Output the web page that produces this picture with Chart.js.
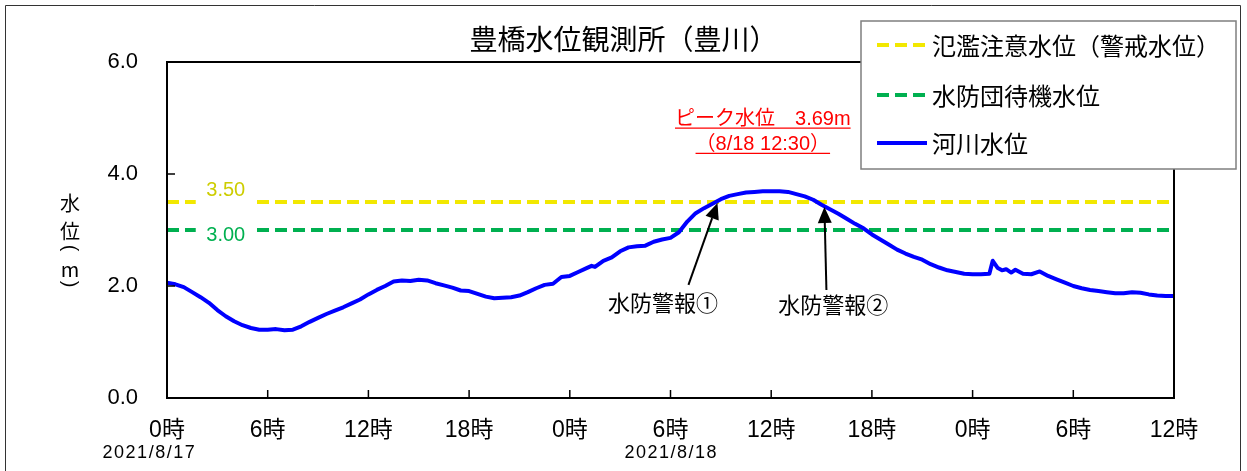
<!DOCTYPE html>
<html><head><meta charset="utf-8">
<script src="https://cdn.jsdelivr.net/npm/chart.js@4.4.1/dist/chart.umd.min.js"></script>
<style>html,body{margin:0;padding:0;background:#fff;}#wrap{width:1247px;height:471px;position:relative;}</style>
</head><body><div id="wrap"><canvas id="c" width="1247" height="471"></canvas></div>
<script>
const titleText = '豊橋水位観測所（豊川）';
const yAxisTitle = ['水','位','(','m',')'];
const hours = [0,0.5,1,1.5,2,2.5,3,3.5,4,4.5,5,5.5,6,6.5,7,7.5,8,8.5,9,9.5,10,10.5,11,11.5,12,12.5,13,13.5,14,14.5,15,15.5,16,16.5,17,17.5,18,18.5,19,19.5,20,20.5,21,21.5,22,22.5,23,23.5,24,24.5,25,25.3,25.5,26,26.5,27,27.5,28,28.5,29,29.5,30,30.5,31,31.5,32,32.5,33,33.5,34,34.5,35,35.5,36,36.5,37,37.5,38,38.5,39,39.5,40,40.5,41,41.5,42,42.5,43,43.5,44,44.5,45,45.5,46,46.5,47,47.5,48,48.5,49,49.2,49.5,49.75,50,50.3,50.55,51,51.5,52,52.5,53,53.5,54,54.5,55,55.5,56,56.5,57,57.5,58,58.5,59,59.5,60];
const levels = [2.06,2.03,1.98,1.89,1.80,1.70,1.57,1.46,1.37,1.30,1.25,1.22,1.22,1.23,1.21,1.22,1.28,1.36,1.43,1.50,1.56,1.62,1.69,1.76,1.85,1.93,2.00,2.08,2.10,2.09,2.11,2.10,2.05,2.01,1.97,1.92,1.91,1.86,1.81,1.78,1.79,1.80,1.83,1.89,1.96,2.02,2.04,2.16,2.18,2.25,2.32,2.36,2.34,2.45,2.51,2.62,2.69,2.71,2.72,2.79,2.83,2.86,2.96,3.15,3.30,3.39,3.47,3.55,3.61,3.64,3.67,3.68,3.69,3.69,3.69,3.68,3.64,3.60,3.54,3.45,3.37,3.29,3.20,3.11,3.03,2.92,2.83,2.74,2.65,2.58,2.52,2.47,2.39,2.33,2.28,2.25,2.22,2.21,2.21,2.22,2.45,2.32,2.28,2.30,2.24,2.29,2.22,2.21,2.26,2.18,2.12,2.06,2.00,1.96,1.93,1.91,1.89,1.87,1.87,1.89,1.88,1.85,1.83,1.82,1.82];
const seriesName = '河川水位';
const xTickLabels = ['0時','6時','12時','18時','0時','6時','12時','18時','0時','6時','12時'];
const dateLabels = ['2021/8/17','2021/8/18'];
const dateLabelHours = [-1.05, 30.05];
const thresholdNames = ['氾濫注意水位（警戒水位）','水防団待機水位'];
const thresholdLevels = [3.5, 3.0];
const thresholdLabels = ['3.50','3.00'];
const peakLines = ['ピーク水位　3.69m','（8/18 12:30）'];
const peakLabelHour = 35.5;
const peakLabelLevels = [4.98, 4.53];
const warnNames = ['水防警報①','水防警報②'];
const warnTips = [[32.8,3.48],[39.17,3.41]];
const warnTails = [[31.07,2.02],[39.29,1.93]];
const warnLabelPos = [[29.55,1.66],[39.7,1.63]];

const FONT = "'Liberation Sans','Noto Sans CJK JP',sans-serif";
const YELLOW = 'rgb(242,232,0)';
const GREEN = 'rgb(0,176,80)';
const BLUE = '#0000ff';

const levelData = hours.map((h,i)=>({x:h,y:levels[i]}));
const thrColors = [YELLOW, GREEN];
const thrLabelColors = ['rgb(205,205,0)', GREEN];

const datasets = [
  {label: seriesName, data: levelData, borderColor: BLUE, borderWidth: 4, pointRadius: 0, tension: 0, borderJoinStyle:'round', borderCapStyle:'round'},
  ...thresholdLevels.map((lv,i)=>({label: thresholdNames[i], data:[{x:0,y:lv},{x:60,y:lv}], borderColor: thrColors[i], borderWidth: 4, borderDash:[12,6], pointRadius:0}))
];

const deco = {
  id:'deco',
  afterDatasetsDraw(chart){
    const ctx = chart.ctx, xs = chart.scales.x, ys = chart.scales.y, ca = chart.chartArea;
    ctx.save();
    ctx.strokeStyle = '#000'; ctx.lineWidth = 2;
    ctx.strokeRect(ca.left, ca.top, ca.right-ca.left, ca.bottom-ca.top);
    ctx.lineWidth = 1.5;
    for (let h=6; h<60; h+=6){ const px = xs.getPixelForValue(h); ctx.beginPath(); ctx.moveTo(px, ca.bottom); ctx.lineTo(px, ca.bottom-8); ctx.stroke(); }
    for (let v=2; v<6; v+=2){ const py = ys.getPixelForValue(v); ctx.beginPath(); ctx.moveTo(ca.left, py); ctx.lineTo(ca.left+8, py); ctx.stroke(); }
    ctx.font = '20px '+FONT; ctx.textAlign='center'; ctx.textBaseline='middle';
    const lx = xs.getPixelForValue(3.5);
    thresholdLevels.forEach((lv,i)=>{
      const py = ys.getPixelForValue(lv);
      ctx.fillStyle = '#fff';
      ctx.fillRect(lx-30, py-4, 60, 8);
      ctx.fillStyle = thrLabelColors[i];
      ctx.fillText(thresholdLabels[i], lx, i===0 ? py-12 : py+5);
    });
    ctx.fillStyle = '#ff0000'; ctx.strokeStyle='#ff0000'; ctx.lineWidth=1.3;
    ctx.font = '20px '+FONT;
    const pxc = xs.getPixelForValue(peakLabelHour);
    peakLines.forEach((t,i)=>{
      const y = ys.getPixelForValue(peakLabelLevels[i]);
      ctx.fillText(t, pxc, y);
      const w = ctx.measureText(t).width;
      ctx.beginPath(); ctx.moveTo(pxc-w/2, y+9); ctx.lineTo(pxc+w/2, y+9); ctx.stroke();
    });
    ctx.strokeStyle='#000'; ctx.fillStyle='#000'; ctx.lineWidth=2;
    warnTips.forEach((tp,i)=>{
      const tx = xs.getPixelForValue(tp[0]), ty = ys.getPixelForValue(tp[1]);
      const sx = xs.getPixelForValue(warnTails[i][0]), sy = ys.getPixelForValue(warnTails[i][1]);
      const ang = Math.atan2(ty-sy, tx-sx);
      const L = 16, W = 7;
      const bx = tx - L*Math.cos(ang), by = ty - L*Math.sin(ang);
      ctx.beginPath(); ctx.moveTo(sx,sy); ctx.lineTo(bx,by); ctx.stroke();
      ctx.beginPath(); ctx.moveTo(tx,ty);
      ctx.lineTo(bx + W*Math.sin(ang), by - W*Math.cos(ang));
      ctx.lineTo(bx - W*Math.sin(ang), by + W*Math.cos(ang));
      ctx.closePath(); ctx.fill();
      ctx.font = '22px '+FONT;
      const lp = warnLabelPos[i];
      ctx.fillText(warnNames[i], xs.getPixelForValue(lp[0]), ys.getPixelForValue(lp[1]));
    });
    ctx.restore();
  },
  afterDraw(chart){
    const ctx = chart.ctx, xs = chart.scales.x;
    ctx.save();
    ctx.strokeStyle='#333'; ctx.lineWidth=1;
    ctx.beginPath(); ctx.moveTo(5.5,471); ctx.lineTo(5.5,5.5); ctx.lineTo(1240.5,5.5); ctx.lineTo(1240.5,471); ctx.stroke();
    // vertical y-axis title
    ctx.fillStyle='#000'; ctx.textAlign='center'; ctx.textBaseline='middle';
    const ty = [203,231,248,269,284];
    yAxisTitle.forEach((ch,i)=>{
      if (ch==='(' || ch===')'){
        ctx.font = "20px 'Liberation Sans',sans-serif";
        ctx.save(); ctx.translate(70, ty[i]); ctx.rotate(Math.PI/2); ctx.fillText(ch,0,0); ctx.restore();
      } else {
        ctx.font = "20px 'Noto Sans CJK JP',sans-serif";
        ctx.fillText(ch, 70, ty[i]);
      }
    });
    ctx.font = '18px '+FONT;
    ctx.letterSpacing = '1.5px';
    dateLabels.forEach((d,i)=> ctx.fillText(d, xs.getPixelForValue(dateLabelHours[i]), 453));
    ctx.letterSpacing = '0px';
    const lx=861, ly=21, lw=375, lh=148;
    ctx.fillStyle='#fff'; ctx.fillRect(lx,ly,lw,lh);
    ctx.strokeStyle='#7f7f7f'; ctx.lineWidth=1.5; ctx.strokeRect(lx,ly,lw,lh);
    const order = [1,2,0];
    const rowsY = [45,95,143];
    order.forEach((di,r)=>{
      const ds = chart.data.datasets[di];
      ctx.strokeStyle = ds.borderColor; ctx.lineWidth = 4;
      ctx.setLineDash(ds.borderDash || []);
      ctx.beginPath(); ctx.moveTo(877, rowsY[r]); ctx.lineTo(927, rowsY[r]); ctx.stroke();
      ctx.setLineDash([]);
      ctx.fillStyle='#000'; ctx.textAlign='left';
      ctx.font = "24px 'Noto Sans CJK JP',sans-serif";
      ctx.fillText(ds.label, 932, rowsY[r]+1);
    });
    ctx.restore();
  }
};

new Chart(document.getElementById('c'), {
  type:'line',
  data:{datasets},
  options:{
    responsive:false, animation:false, devicePixelRatio:1,
    layout:{padding:0},
    plugins:{
      legend:{display:false}, tooltip:{enabled:false},
      title:{display:true, text:titleText, color:'#000', font:{size:28, family:"'Noto Sans CJK JP',sans-serif", weight:'normal'}, padding:{top:23, bottom:5.4}}
    },
    scales:{
      x:{type:'linear', min:0, max:60, afterFit:s=>{s.height=73;},
        ticks:{stepSize:6, autoSkip:false, maxRotation:0, color:'#000', padding:19, font:{size:23, family:FONT}, callback:v=>xTickLabels[Math.round(v/6)]},
        grid:{display:false, drawTicks:false}, border:{display:false}},
      y:{min:0, max:6, afterFit:s=>{s.width=167;},
        ticks:{stepSize:2, color:'#000', padding:29, font:{size:22, family:FONT}, callback:v=>v.toFixed(1)},
        grid:{display:false, drawTicks:false}, border:{display:false}},
      y2:{position:'right', min:0, max:6, afterFit:s=>{s.width=73;}, ticks:{display:false}, grid:{display:false, drawTicks:false}, border:{display:false}}
    }
  },
  plugins:[deco]
});
</script></body></html>
